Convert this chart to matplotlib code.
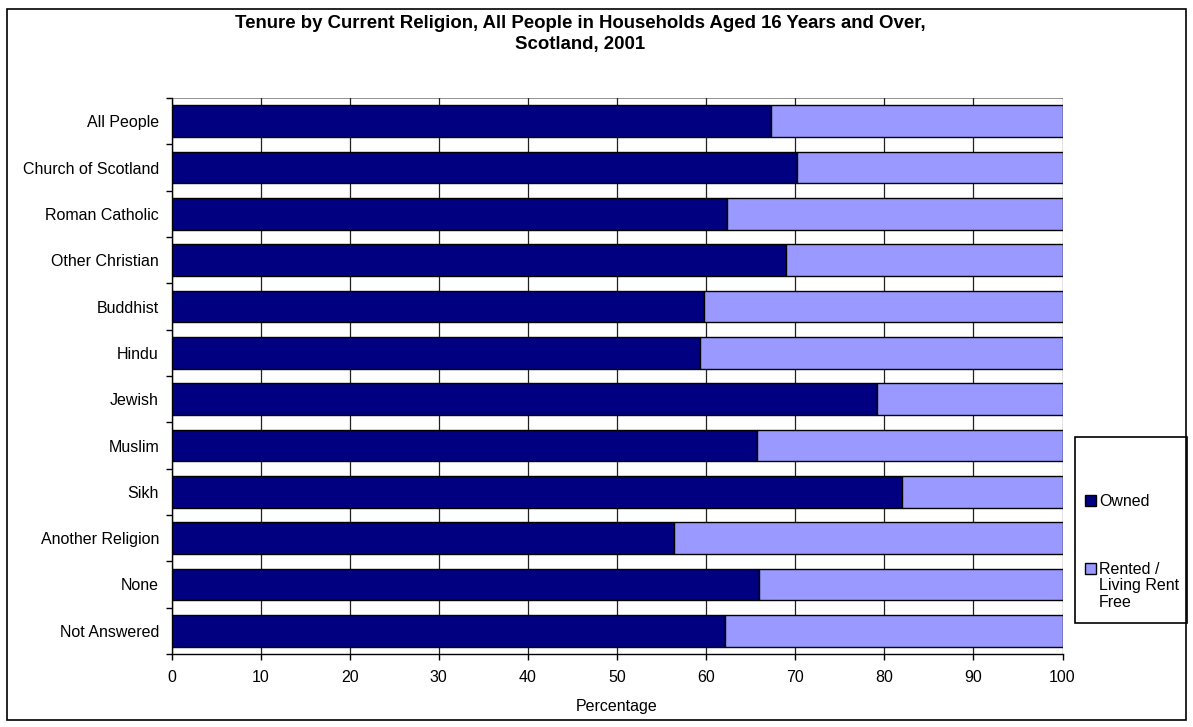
import matplotlib.pyplot as plt
from matplotlib.patches import Rectangle, Patch

plt.rcParams['font.family'] = ['Liberation Sans', 'DejaVu Sans']

religions = ['All People', 'Church of Scotland', 'Roman Catholic', 'Other Christian',
             'Buddhist', 'Hindu', 'Jewish', 'Muslim', 'Sikh', 'Another Religion',
             'None', 'Not Answered']
owned = [67.3, 70.2, 62.3, 69.0, 59.8, 59.3, 79.2, 65.7, 82.0, 56.4, 65.9, 62.1]
rented = [100 - v for v in owned]
xticks = [0, 10, 20, 30, 40, 50, 60, 70, 80, 90, 100]

W, H = 1193, 727
fig = plt.figure(figsize=(W / 100, H / 100), dpi=100)

# outer chart border
fig.patches.append(Rectangle((7 / W, 1 - 720 / H), 1179 / W, 711 / H,
                             transform=fig.transFigure, fill=False,
                             edgecolor='black', lw=1.2))

ax = fig.add_axes([171.5 / W, 1 - 654 / H, 891 / W, 556 / H])

y = list(range(len(religions)))
ax.barh(y, owned, height=0.68, color='#000080', edgecolor='black', lw=1, zorder=3)
ax.barh(y, rented, left=owned, height=0.68, color='#9999FF', edgecolor='black',
        lw=1, zorder=3)

ax.set_xlim(0, 100)
ax.set_ylim(len(religions) - 0.5, -0.5)
ax.set_xticks(xticks)
ax.set_yticks(y)
ax.set_yticklabels(religions, fontsize=11.5)
ax.set_yticks([i - 0.5 for i in range(len(religions) + 1)], minor=True)
ax.tick_params(axis='y', which='major', length=0, pad=9)
ax.tick_params(axis='y', which='minor', length=4, direction='out', width=1)
ax.tick_params(axis='x', length=4, direction='out', labelsize=11.5, width=1, pad=7.5)
ax.grid(axis='x', color='#202020', lw=0.9, zorder=0)
ax.set_xlabel('Percentage', fontsize=11.5, labelpad=10)

for s in ['top', 'right']:
    ax.spines[s].set_visible(False)
ax.spines['left'].set_lw(1)
ax.spines['bottom'].set_lw(1)
ax.axhline(-0.5, color='#808080', lw=1.2, zorder=1)

fig.text(580 / W, 1 - 34 / H,
         'Tenure by Current Religion, All People in Households Aged 16 Years and Over,\nScotland, 2001',
         ha='center', va='center', fontsize=13.4, fontweight='bold', linespacing=1.35)

# legend
fig.patches.append(Rectangle((1075 / W, 1 - 623 / H), 112 / W, 186 / H,
                             transform=fig.transFigure, fill=False,
                             edgecolor='black', lw=1.2))
handles = [Patch(facecolor='#000080', edgecolor='black'),
           Patch(facecolor='#9999FF', edgecolor='black')]
fig.legend(handles, ['Owned', 'Rented /'],
           loc='upper left', bbox_to_anchor=(1085 / W, 1 - 494 / H),
           frameon=False, fontsize=11.5, handlelength=0.7, handleheight=0.7,
           handletextpad=0.2, labelspacing=3.3, borderpad=0, borderaxespad=0)
fig.text(1099 / W, 1 - 594 / H, 'Living Rent\nFree', ha='left', va='center',
         fontsize=11.5, linespacing=1.15)

fig.savefig('out.png', dpi=100)
